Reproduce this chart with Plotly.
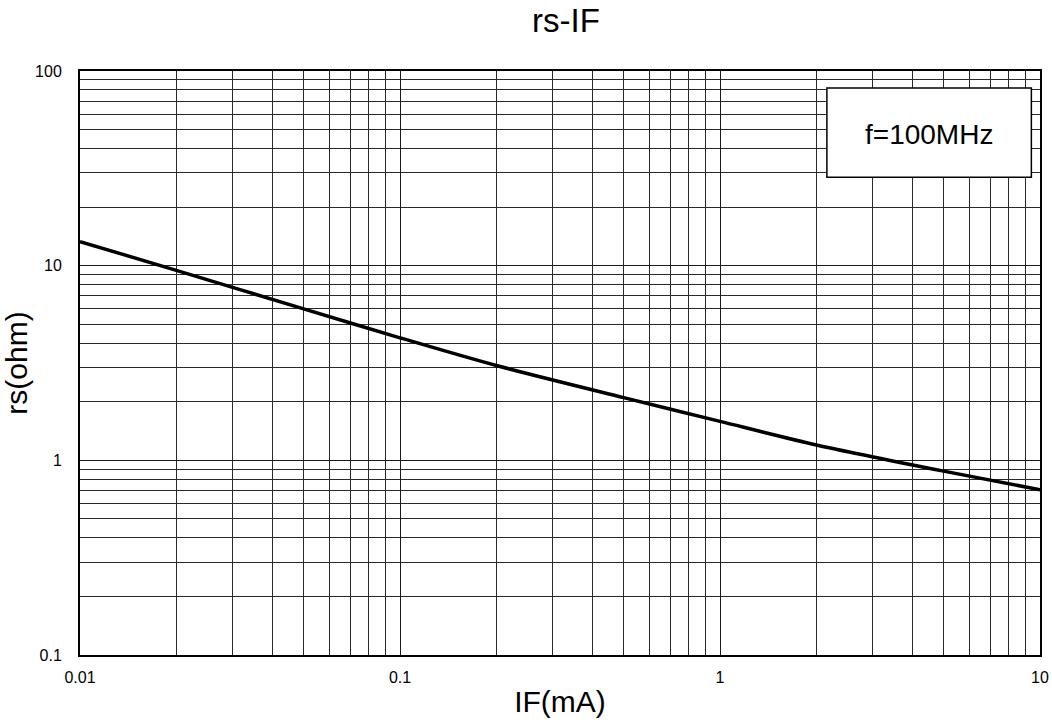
import plotly.graph_objects as go

# Data
if_ma = [0.01, 0.02, 0.05, 0.1, 0.2, 0.5, 1, 2, 5, 10]
rs_ohm = [13.3, 9.46, 6.0, 4.26, 3.07, 2.10, 1.585, 1.20, 0.88, 0.706]
x_ticks = [0.01, 0.1, 1, 10]
x_tick_text = ["0.01", "0.1", "1", "10"]
y_ticks = [0.1, 1, 10, 100]
y_tick_text = ["0.1", "1", "10", "100"]
title_text = "rs-IF"
x_title = "IF(mA)"
y_title = "rs(ohm)"
note_text = "f=100MHz"

FONT = "Liberation Sans, Arial, sans-serif"

fig = go.Figure()
fig.add_trace(go.Scatter(
    x=if_ma, y=rs_ohm, mode="lines",
    line=dict(color="black", width=3.5, shape="spline", smoothing=0.8),
    showlegend=False, hoverinfo="skip",
))

axis_common = dict(
    type="log",
    automargin=False,
    showgrid=True, gridcolor="#1a1a1a", gridwidth=1,
    showline=True, linecolor="black", linewidth=2, mirror=True,
    ticks="", zeroline=False,
    tickfont=dict(family=FONT, size=16, color="black"),
    minor=dict(dtick="D1", showgrid=True, gridcolor="#2a2a2a", gridwidth=1, ticks=""),
)

fig.update_xaxes(
    **axis_common,
    range=[-2, 1],
    tickvals=x_ticks, ticktext=x_tick_text,
    ticklabelstandoff=7,
    title=dict(text=x_title, font=dict(family=FONT, size=30, color="black"), standoff=6),
)
fig.update_yaxes(
    **axis_common,
    range=[-1, 2],
    tickvals=y_ticks, ticktext=y_tick_text,
    ticklabelstandoff=13,
    title=dict(text=y_title, font=dict(family=FONT, size=30, color="black"), standoff=4),
)

fig.add_shape(type="rect", xref="paper", yref="paper",
              x0=0.778, x1=0.991, y0=0.818, y1=0.971,
              line=dict(color="black", width=1.5), fillcolor="white", layer="above")
fig.add_annotation(text=note_text, xref="paper", yref="paper",
                   x=0.8845, y=0.891, xanchor="center", yanchor="middle",
                   showarrow=False,
                   font=dict(family=FONT, size=28, color="black"))

fig.update_layout(
    width=1052, height=727,
    margin=dict(l=80, r=12, t=71, b=72),
    paper_bgcolor="white", plot_bgcolor="white",
    title=dict(text=title_text, x=566 / 1052, xanchor="center",
               yref="container", y=1 - 20 / 727, yanchor="middle",
               font=dict(family=FONT, size=33, color="black")),
)

fig.write_html("out.html", config={"displayModeBar": False},
               post_script="document.body.style.margin='0';")
